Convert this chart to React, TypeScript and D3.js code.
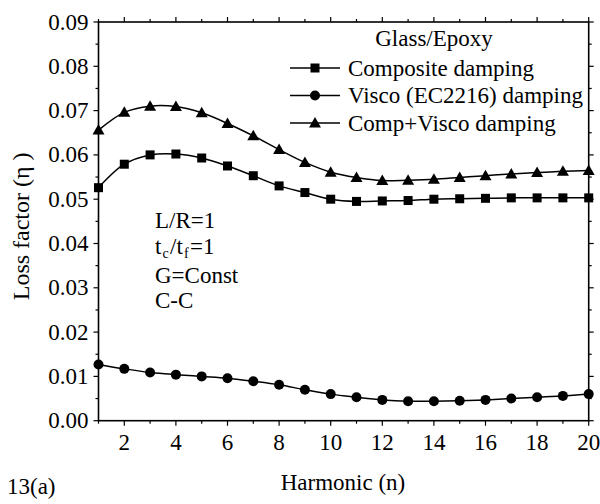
import React from "react";
import * as d3 from "d3";

const harmonics = [1,2,3,4,5,6,7,8,9,10,11,12,13,14,15,16,17,18,19,20];
const compositeDamping = [0.0526,0.0579,0.0600,0.0602,0.0593,0.0575,0.0553,0.0530,0.0515,0.0500,0.0495,0.0496,0.0497,0.0500,0.0501,0.0502,0.0503,0.0503,0.0503,0.0503];
const viscoDamping = [0.0127,0.0117,0.0109,0.0104,0.0100,0.0096,0.0089,0.0081,0.0070,0.0060,0.0053,0.0047,0.0044,0.0044,0.0045,0.0047,0.0050,0.0053,0.0056,0.0060];
const compViscoDamping = [0.0656,0.0696,0.0710,0.0709,0.0695,0.0671,0.0643,0.0612,0.0583,0.0561,0.0549,0.0542,0.0543,0.0545,0.0549,0.0553,0.0557,0.0560,0.0563,0.0565];
const seriesNames = ["Composite damping", "Visco (EC2216) damping", "Comp+Visco damping"];
const xTicks = [2,4,6,8,10,12,14,16,18,20];
const yTicks = [0,0.01,0.02,0.03,0.04,0.05,0.06,0.07,0.08,0.09];

const W = 600, H = 504;
const L = 98.5, R = 588.7, T = 22, B = 420.7;
const FONT = '"Liberation Serif", "Times New Roman", "DejaVu Serif", serif';
const FS = 23;

function Marker({ kind, x, y }: { kind: string; x: number; y: number }) {
  if (kind === "square") return <rect x={x - 4.5} y={y - 4.5} width={9} height={9} fill="#000" />;
  if (kind === "circle") return <circle cx={x} cy={y} r={5} fill="#000" />;
  return <path d={`M${x},${y - 6} L${x + 6},${y + 4.5} L${x - 6},${y + 4.5} Z`} fill="#000" />;
}

export default function App() {
  const x = d3.scaleLinear().domain([1, 20]).range([L, R]);
  const y = d3.scaleLinear().domain([0, 0.09]).range([B, T]);
  const line = d3.line<number>().x((_, i) => x(harmonics[i])).y((d) => y(d)).curve(d3.curveCatmullRom.alpha(0.5));
  const series = [
    { vals: compositeDamping, kind: "square" },
    { vals: viscoDamping, kind: "circle" },
    { vals: compViscoDamping, kind: "triangle" },
  ];
  const xMinor = d3.range(1, 21, 1).filter((v) => v % 2 === 1);
  const yMinor = d3.range(0, 19).map((i) => i * 0.005).filter((_, i) => i % 2 === 1);
  const legendRows = [68, 95.5, 123];
  const ts: React.CSSProperties = { fontFamily: FONT, fontSize: FS };
  const sub: React.CSSProperties = { fontFamily: FONT, fontSize: 14 };
  const ax = 155, ay = 254;
  return (
    <svg width={W} height={H} style={{ position: "absolute", left: 0, top: 0, background: "#fff" }}>
      <rect x={0} y={0} width={W} height={H} fill="#fff" />
      <g stroke="#000" strokeWidth={1.2}>
        {xTicks.map((t) => (
          <g key={"xt" + t}>
            <line x1={x(t)} x2={x(t)} y1={B} y2={B + 5} />
            <line x1={x(t)} x2={x(t)} y1={T} y2={T - 5} />
          </g>
        ))}
        {xMinor.map((t) => (
          <g key={"xm" + t}>
            <line x1={x(t)} x2={x(t)} y1={B} y2={B + 3} />
            <line x1={x(t)} x2={x(t)} y1={T} y2={T - 3} />
          </g>
        ))}
        {yTicks.map((t) => (
          <g key={"yt" + t}>
            <line x1={L} x2={L - 5} y1={y(t)} y2={y(t)} />
            <line x1={R} x2={R + 5} y1={y(t)} y2={y(t)} />
          </g>
        ))}
        {yMinor.map((t) => (
          <g key={"ym" + t}>
            <line x1={L} x2={L - 3} y1={y(t)} y2={y(t)} />
            <line x1={R} x2={R + 3} y1={y(t)} y2={y(t)} />
          </g>
        ))}
      </g>
      <rect x={L} y={T} width={R - L} height={B - T} fill="none" stroke="#000" strokeWidth={1.6} />
      {xTicks.map((t) => (
        <text key={"xl" + t} x={x(t)} y={B + 29} textAnchor="middle" style={ts}>{t}</text>
      ))}
      {yTicks.map((t) => (
        <text key={"yl" + t} x={L - 10} y={y(t) + 7.5} textAnchor="end" style={ts}>{d3.format(".2f")(t)}</text>
      ))}
      {series.map((s, si) => (
        <g key={"s" + si}>
          <path d={line(s.vals) || ""} fill="none" stroke="#000" strokeWidth={1.5} />
          {s.vals.map((v, i) => (
            <Marker key={i} kind={s.kind} x={x(harmonics[i])} y={y(v)} />
          ))}
        </g>
      ))}
      <text x={434} y={46} textAnchor="middle" style={ts}>Glass/Epoxy</text>
      {seriesNames.map((n, i) => (
        <g key={"lg" + i}>
          <line x1={290} x2={340} y1={legendRows[i]} y2={legendRows[i]} stroke="#000" strokeWidth={1.5} />
          <Marker kind={series[i].kind} x={315} y={legendRows[i]} />
          <text x={348} y={legendRows[i] + 7.5} style={ts}>{n}</text>
        </g>
      ))}
      <text x={155} y={228} style={ts}>L/R=1</text>
      <text x={ax} y={ay} style={ts}>t</text>
      <text x={ax + 7.5} y={ay + 4} style={sub}>c</text>
      <text x={ax + 15} y={ay} style={ts}>/t</text>
      <text x={ax + 29} y={ay + 4} style={sub}>f</text>
      <text x={ax + 35} y={ay} style={ts}>=1</text>
      <text x={155} y={283} style={ts}>G=Const</text>
      <text x={155} y={308} style={ts}>C-C</text>
      <text x={343} y={490} textAnchor="middle" style={ts}>Harmonic (n)</text>
      <text transform={`translate(29,${(T + B) / 2 + 5}) rotate(-90)`} textAnchor="middle" style={{ fontFamily: FONT, fontSize: 24 }}>Loss factor (η )</text>
      <text x={7} y={494} style={ts}>13(a)</text>
    </svg>
  );
}
